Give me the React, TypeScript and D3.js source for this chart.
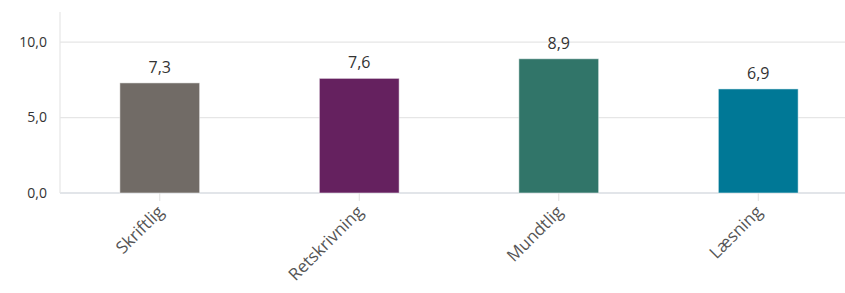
import React from 'react';
import * as d3 from 'd3';

const categories = ['Skriftlig', 'Retskrivning', 'Mundtlig', 'Læsning'];
const values = [7.3, 7.6, 8.9, 6.9];
const colors = ['#716b66', '#65215f', '#317569', '#007896'];
const yTicks = [0, 5, 10];

const W = 845;
const H = 293;
const margin = { top: 12, left: 60, bottom: 100 };
const plotRight = 858;

const fmt = (v: number) => v.toFixed(1).replace('.', ',');

export default function App() {
    const x = d3.scaleBand()
        .domain(categories)
        .range([margin.left, plotRight])
        .paddingInner(0.6)
        .paddingOuter(0.3);

    const y = d3.scaleLinear()
        .domain([0, 12])
        .range([H - margin.bottom, margin.top]);

    const font = '"Open Sans", "Noto Sans", sans-serif';

    return (
        <svg width={W} height={H} style={{ position: 'absolute', left: 0, top: 0, fontFamily: font }}>
            <rect width={W} height={H} fill="white" />
            {/* gridlines */}
            {yTicks.map((t) => (
                <line key={t} x1={margin.left} x2={W} y1={y(t)} y2={y(t)}
                    stroke={t === 0 ? '#d8dce2' : '#e6e6e6'} strokeWidth={t === 0 ? 1.5 : 1.2} />
            ))}
            <line x1={margin.left} x2={margin.left} y1={y(12)} y2={y(0)} stroke="#e6e6e6" strokeWidth={1.2} />
            {yTicks.map((t) => (
                <text key={t} x={47} y={y(t)} dy="0.35em" textAnchor="end" fontSize={14} fill="#333">
                    {fmt(t)}
                </text>
            ))}
            {categories.map((c, i) => {
                const cx = x(c) + x.bandwidth() / 2;
                return (
                    <g key={c}>
                        <rect x={x(c)} y={y(values[i])} width={x.bandwidth()} height={y(0) - y(values[i])}
                            fill={colors[i]} stroke="#ffffff" strokeOpacity={0.5} strokeWidth={1} />
                        <text x={cx} y={y(values[i]) - 10} textAnchor="middle" fontSize={16} fill="#333">
                            {fmt(values[i])}
                        </text>
                        <line x1={cx} x2={cx} y1={y(0)} y2={y(0) + 8} stroke="#e0e0e0" />
                        <text transform={`translate(${cx + 5}, ${y(0) + 20}) rotate(-45)`} textAnchor="end"
                            fontSize={17} fill="#555">
                            {c}
                        </text>
                    </g>
                );
            })}
        </svg>
    );
}
